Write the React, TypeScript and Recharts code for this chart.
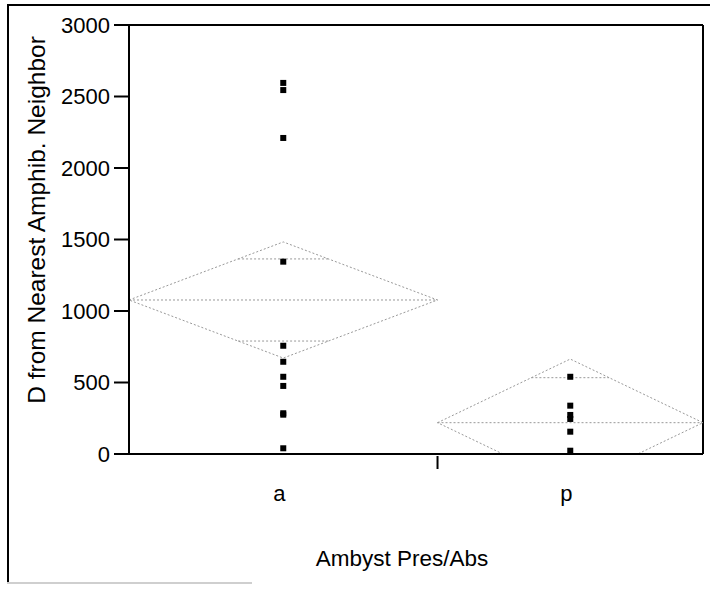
import React from 'react';
import { ComposedChart, Line, Scatter, XAxis, YAxis, ReferenceLine } from 'recharts';

// groups on the x axis; JMP gives each group a width share of the axis
const categories = ['a', 'p'];
const groupShare = [0.5375, 0.4625];

// raw observations per group
const absentValues = [2595, 2545, 2210, 1345, 757, 645, 540, 476, 285, 275, 40];
const presentValues = [540, 338, 273, 245, 156, 23];

// means diamonds: group mean and 95% CI half width
const groupMeans = [1077, 219];
const ciHalfWidths = [406, 445];

const yTicks = [0, 500, 1000, 1500, 2000, 2500, 3000];

const FONT = '"Liberation Sans", Arial, Helvetica, sans-serif';
const DIAMOND = '#999999';

const edges = groupShare.reduce((acc, s) => [...acc, acc[acc.length - 1] + s], [0]);
const centers = categories.map((_, i) => (edges[i] + edges[i + 1]) / 2);

const points = [absentValues, presentValues].flatMap((vals, i) =>
  vals.map((v) => ({ x: centers[i], y: v }))
);

const diamonds = categories.map((_, i) => {
  const l = edges[i];
  const r = edges[i + 1];
  const c = centers[i];
  const m = groupMeans[i];
  const h = ciHalfWidths[i];
  const o = h / Math.SQRT2; // overlap marks
  const dx = ((r - l) / 2) * (1 - 1 / Math.SQRT2);
  return [
    [{ x: l, y: m }, { x: c, y: m + h }, { x: r, y: m }, { x: c, y: m - h }, { x: l, y: m }],
    [{ x: l, y: m }, { x: r, y: m }],
    [{ x: c - dx, y: m + o }, { x: c + dx, y: m + o }],
    [{ x: c - dx, y: m - o }, { x: c + dx, y: m - o }],
  ];
});

const XTick = ({ x, y, payload }: any) => {
  const i = centers.findIndex((c) => Math.abs(c - payload.value) < 1e-6);
  if (i >= 0) {
    return (
      <text x={x - 4} y={y + 45} textAnchor="middle" fontSize={22} fontFamily={FONT} fill="#000">
        {categories[i]}
      </text>
    );
  }
  return <line x1={x} x2={x} y1={y} y2={y + 13} stroke="#000" strokeWidth={2} />;
};

const Square = ({ cx, cy }: any) => <rect x={cx - 3} y={cy - 3} width={6} height={6} fill="#000" />;

export default function App() {
  return (
    <div style={{ position: 'absolute', left: 0, top: 0, width: 710, height: 590, background: '#fff' }}>
      <div style={{ position: 'absolute', left: 7, top: 4, width: 703, height: 2, background: '#000' }} />
      <div style={{ position: 'absolute', left: 7, top: 4, width: 2, height: 580, background: '#000' }} />
      <div style={{ position: 'absolute', left: 7, top: 582, width: 245, height: 2, background: '#cfcfcf' }} />
      <ComposedChart
        width={710}
        height={590}
        margin={{ top: 25, right: 7, bottom: 96, left: 69 }}
        style={{ position: 'absolute', left: 0, top: 0 }}
      >
        <XAxis
          type="number"
          dataKey="x"
          domain={[0, 1]}
          ticks={[centers[0], edges[1], centers[1]]}
          tick={<XTick />}
          tickSize={0}
          tickLine={false}
          height={40}
          axisLine={{ stroke: '#000', strokeWidth: 2 }}
          label={{
            content: () => (
              <text x={402} y={566} textAnchor="middle" fontSize={22.5} fontFamily={FONT} fill="#000">
                Ambyst Pres/Abs
              </text>
            ),
          }}
        />
        <YAxis
          type="number"
          domain={[0, 3000]}
          ticks={yTicks}
          allowDataOverflow
          width={60}
          tickSize={15}
          tickMargin={4}
          tick={{ fill: '#000', fontSize: 22, fontFamily: FONT }}
          tickLine={{ stroke: '#000', strokeWidth: 2 }}
          axisLine={{ stroke: '#000', strokeWidth: 2 }}
          label={{
            content: () => (
              <text
                x={36}
                y={220}
                transform="rotate(-90, 36, 220)"
                textAnchor="middle"
                dominantBaseline="central"
                fontSize={24.5}
                fontFamily={FONT}
                fill="#000"
              >
                D from Nearest Amphib. Neighbor
              </text>
            ),
          }}
        />
        <ReferenceLine y={3000} stroke="#000" strokeWidth={2} />
        <ReferenceLine x={1} stroke="#000" strokeWidth={2} />
        {diamonds.flatMap((segs, i) =>
          segs.map((seg, j) => (
            <Line
              key={`d-${i}-${j}`}
              data={seg}
              dataKey="y"
              type="linear"
              stroke={DIAMOND}
              strokeWidth={1}
              strokeDasharray="2 2"
              dot={false}
              activeDot={false}
              isAnimationActive={false}
            />
          ))
        )}
        <Scatter data={points} dataKey="y" shape={<Square />} isAnimationActive={false} />
      </ComposedChart>
    </div>
  );
}
